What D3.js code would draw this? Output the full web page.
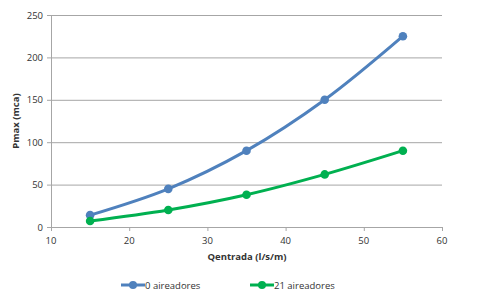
<!DOCTYPE html>
<meta charset="utf-8">
<title>Pmax vs Qentrada</title>
<style>
body { margin: 0; background: #fff; }
text { font-family: "Open Sans", "Liberation Sans", sans-serif; fill: #333; }
.grid line { stroke: #a6a6a6; stroke-width: 1; }
</style>
<svg width="486" height="294"></svg>
<script src="https://d3js.org/d3.v7.min.js"></script>
<script>
var qentrada = [15, 25, 35, 45, 55];
var aireadores0 = [14, 45, 90, 150, 225];
var aireadores21 = [7, 20, 38, 62, 90];
var xTicks = [10, 20, 30, 40, 50, 60];
var yTicks = [0, 50, 100, 150, 200, 250];
var seriesNames = ["0 aireadores", "21 aireadores"];
var colors = ["#4f81bd", "#00b050"];

var svg = d3.select("svg");

var x = d3.scaleLinear().domain([10, 60]).range([51, 442]);
var y = d3.scaleLinear().domain([0, 250]).range([227, 15]);

// gridlines
svg.append("g").attr("class", "grid")
  .selectAll("line").data(yTicks).enter().append("line")
    .attr("x1", x(10) - 4).attr("x2", x(60))
    .attr("y1", function(d) { return y(d) + 0.5; })
    .attr("y2", function(d) { return y(d) + 0.5; });

// y axis line
svg.append("line")
  .attr("x1", x(10) + 0.5).attr("x2", x(10) + 0.5)
  .attr("y1", y(250)).attr("y2", y(0))
  .attr("stroke", "#a6a6a6");

// x tick marks
svg.append("g").selectAll("line").data(xTicks).enter().append("line")
  .attr("x1", function(d) { return x(d) + 0.5; })
  .attr("x2", function(d) { return x(d) + 0.5; })
  .attr("y1", y(0)).attr("y2", y(0) + 4)
  .attr("stroke", "#a6a6a6");

svg.append("g").selectAll("text").data(yTicks).enter().append("text")
  .attr("x", 43).attr("y", function(d) { return y(d) + 3.5; })
  .attr("text-anchor", "end")
  .style("font-size", "9.5px")
  .text(function(d) { return d; });

svg.append("g").selectAll("text").data(xTicks).enter().append("text")
  .attr("x", function(d) { return x(d); }).attr("y", 244)
  .attr("text-anchor", "middle")
  .style("font-size", "9.5px")
  .text(function(d) { return d; });

svg.append("text")
  .attr("x", 247).attr("y", 260)
  .attr("text-anchor", "middle")
  .style("font-size", "9.5px").style("font-weight", "bold")
  .text("Qentrada (l/s/m)");

svg.append("text")
  .attr("transform", "translate(19,121) rotate(-90)")
  .attr("text-anchor", "middle")
  .style("font-size", "9.5px").style("font-weight", "bold")
  .text("Pmax (mca)");

var line = d3.line()
  .x(function(d) { return x(d[0]); })
  .y(function(d) { return y(d[1]); })
  .curve(d3.curveCatmullRom.alpha(0.5));

[aireadores0, aireadores21].forEach(function(vals, i) {
  var pts = qentrada.map(function(q, j) { return [q, vals[j]]; });
  svg.append("path").datum(pts)
    .attr("d", line)
    .attr("fill", "none")
    .attr("stroke", colors[i])
    .attr("stroke-width", 3);
  svg.append("g").selectAll("circle").data(pts).enter().append("circle")
    .attr("cx", function(d) { return x(d[0]); })
    .attr("cy", function(d) { return y(d[1]); })
    .attr("r", 4.3)
    .attr("fill", colors[i]);
});

// legend
var legendX = [121, 250];
seriesNames.forEach(function(name, i) {
  var g = svg.append("g").attr("transform", "translate(" + legendX[i] + ",285)");
  g.append("line").attr("x1", 0).attr("x2", 24).attr("y1", 0).attr("y2", 0)
    .attr("stroke", colors[i]).attr("stroke-width", 3);
  g.append("circle").attr("cx", 12).attr("cy", 0).attr("r", 4).attr("fill", colors[i]);
  g.append("text").attr("x", 24).attr("y", 3.5)
    .style("font-size", "9.5px").text(name);
});
</script>
